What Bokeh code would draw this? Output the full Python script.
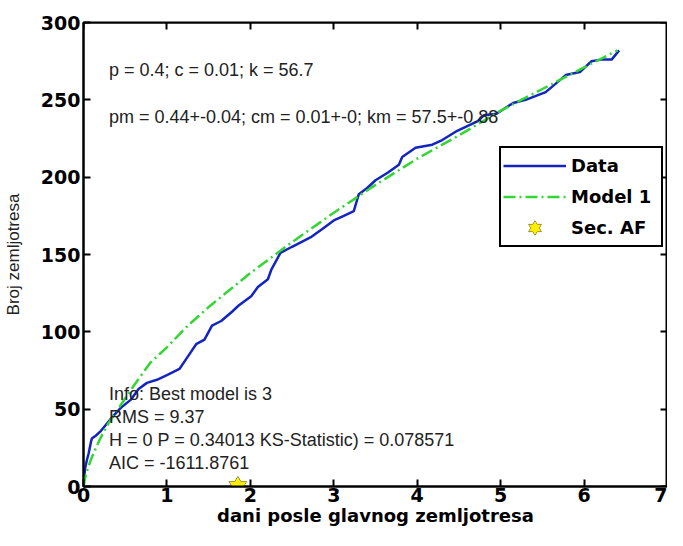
from bokeh.plotting import figure
from bokeh.models import Label, Legend, LegendItem, LinearAxis, FixedTicker, Range1d
from bokeh.embed import file_html
from bokeh.resources import INLINE

# ---- data ----
data_days = [0, 0.005, 0.02, 0.04, 0.06, 0.09, 0.1, 0.15, 0.21, 0.33, 0.45, 0.565, 0.66,
             0.76, 0.88, 1.0, 1.15, 1.25, 1.35, 1.45, 1.54, 1.65, 1.78, 1.86, 2.01, 2.09,
             2.21, 2.25, 2.36, 2.5, 2.72, 2.85, 3.0, 3.12, 3.24, 3.3, 3.4, 3.5, 3.65, 3.78,
             3.82, 3.98, 4.18, 4.3, 4.48, 4.6, 4.72, 4.8, 4.95, 5.15, 5.3, 5.54, 5.65, 5.78,
             5.95, 6.09, 6.2, 6.33, 6.42]
data_counts = [0, 5, 12, 17, 21, 29, 31, 33, 36, 44, 51, 56, 63,
               67, 69, 72, 76, 84, 92, 95, 104, 107, 113, 117, 123, 129,
               134, 140, 151, 155, 161, 166, 172, 175, 178, 189, 193, 198, 203, 208,
               213, 219, 221, 224, 230, 233, 236, 240, 241, 248, 250, 255, 260, 266,
               268, 275, 276, 276, 282]

model_days = [0, 0.02, 0.05, 0.1, 0.2, 0.3, 0.45, 0.6, 0.8, 1.0, 1.25, 1.5, 2.0, 2.5,
              3.0, 3.5, 4.0, 4.5, 5.0, 5.5, 6.0, 6.4]
model_counts = [0, 5.5, 11.5, 19, 31, 41, 53, 65, 80, 90, 104, 116, 138, 158,
                177, 195, 212, 227, 243, 257, 271, 282]

af_days = [1.85]
af_counts = [0]

x_ticks = [0, 1, 2, 3, 4, 5, 6, 7]
y_ticks = [0, 50, 100, 150, 200, 250, 300]

top_lines = ["p = 0.4; c = 0.01; k = 56.7",
             "pm = 0.44+-0.04; cm = 0.01+-0; km = 57.5+-0.88"]
info_lines = ["Info: Best model is 3",
              "RMS = 9.37",
              "H = 0 P = 0.34013 KS-Statistic) = 0.078571",
              "AIC = -1611.8761"]

X_MIN, X_MAX = 0, 7
Y_MIN, Y_MAX = 0, 300

# ---- figure ----
p = figure(width=667, height=530, output_backend="svg", toolbar_location=None,
           x_range=Range1d(X_MIN, X_MAX), y_range=Range1d(Y_MIN, Y_MAX),
           min_border_left=82, min_border_right=0, min_border_top=22, min_border_bottom=44)
p.xgrid.visible = False
p.ygrid.visible = False
p.outline_line_color = "black"
p.outline_line_width = 2
p.outline_line_alpha = 1
p.background_fill_color = "white"
p.border_fill_color = "white"

TICK_FONT = "DejaVu Sans"

def style_axis(ax, ticks, standoff=4):
    ax.ticker = FixedTicker(ticks=ticks)
    ax.axis_line_color = "black"
    ax.axis_line_width = 2
    ax.major_tick_line_color = "black"
    ax.major_tick_line_width = 2
    ax.major_tick_in = 7
    ax.major_tick_out = 0
    ax.minor_tick_line_color = None
    ax.major_label_text_font = TICK_FONT
    ax.major_label_text_font_style = "bold"
    ax.major_label_text_font_size = "19px"
    ax.major_label_text_color = "black"
    ax.major_label_standoff = standoff

style_axis(p.xaxis[0], x_ticks, standoff=1)
style_axis(p.yaxis[0], y_ticks, standoff=3)

p.xaxis.axis_label = "dani posle glavnog zemljotresa"
p.xaxis.axis_label_text_font = "DejaVu Sans"
p.xaxis.axis_label_text_font_style = "bold"
p.xaxis.axis_label_text_font_size = "18px"
p.xaxis.axis_label_standoff = 0
p.xaxis.axis_label_text_color = "black"

p.yaxis.axis_label = "Broj zemljotresa"
p.yaxis.axis_label_text_font = "Liberation Sans"
p.yaxis.axis_label_text_font_style = "normal"
p.yaxis.axis_label_text_font_size = "17px"
p.yaxis.axis_label_standoff = 15
p.yaxis.axis_label_text_color = "#222222"

# box ticks on the top and right edges (fixed-location axes take no border space)
top_ax = LinearAxis(fixed_location=Y_MAX)
style_axis(top_ax, x_ticks, standoff=0)
top_ax.major_label_overrides = {t: "" for t in x_ticks}
p.add_layout(top_ax, "above")
right_ax = LinearAxis(fixed_location=X_MAX)
style_axis(right_ax, y_ticks, standoff=0)
right_ax.major_label_overrides = {t: "" for t in y_ticks}
p.add_layout(right_ax, "right")

# ---- glyphs ----
r_data = p.line(data_days, data_counts, line_color="#1424c0", line_width=2.5)
r_model = p.line(model_days, model_counts, line_color="#33d633", line_width=2.5,
                 line_dash="12 4 2 4")
star_kw = dict(size=17, fill_color="#ffee00")
s1 = p.scatter(af_days, af_counts, marker="triangle", line_color="#444444", line_width=1, **star_kw)
s2 = p.scatter(af_days, af_counts, marker="inverted_triangle", line_color="#444444", line_width=1, **star_kw)
s3 = p.scatter(af_days, af_counts, marker="triangle", line_color=None, **star_kw)
s4 = p.scatter(af_days, af_counts, marker="inverted_triangle", line_color=None, **star_kw)

legend = Legend(items=[LegendItem(label="Data", renderers=[r_data]),
                       LegendItem(label="Model 1", renderers=[r_model]),
                       LegendItem(label="Sec. AF", renderers=[s1, s2, s3, s4])],
                location=(416, 239))
legend.label_text_font = "DejaVu Sans"
legend.label_text_font_style = "bold"
legend.label_text_font_size = "18px"
legend.label_text_color = "black"
legend.glyph_width = 63
legend.glyph_height = 31
legend.label_height = 20
legend.label_width = 88
legend.label_standoff = 5
legend.spacing = 0
legend.padding = 2
legend.margin = 0
legend.border_line_color = "black"
legend.border_line_width = 2
legend.border_line_alpha = 1
legend.background_fill_color = "white"
legend.background_fill_alpha = 1
p.add_layout(legend)

# ---- texts ----
text_kw = dict(text_font="Liberation Sans", text_font_size="18px", text_baseline="middle",
               text_color="#222222")
for t, yy in zip(top_lines, [269.4, 238.7]):
    p.add_layout(Label(x=0.305, y=yy, text=t, **text_kw))
for t, yy in zip(info_lines, [60.0, 44.7, 30.0, 15.3]):
    p.add_layout(Label(x=0.305, y=yy, text=t, **text_kw))

open("out.html", "w").write(file_html(p, INLINE))
